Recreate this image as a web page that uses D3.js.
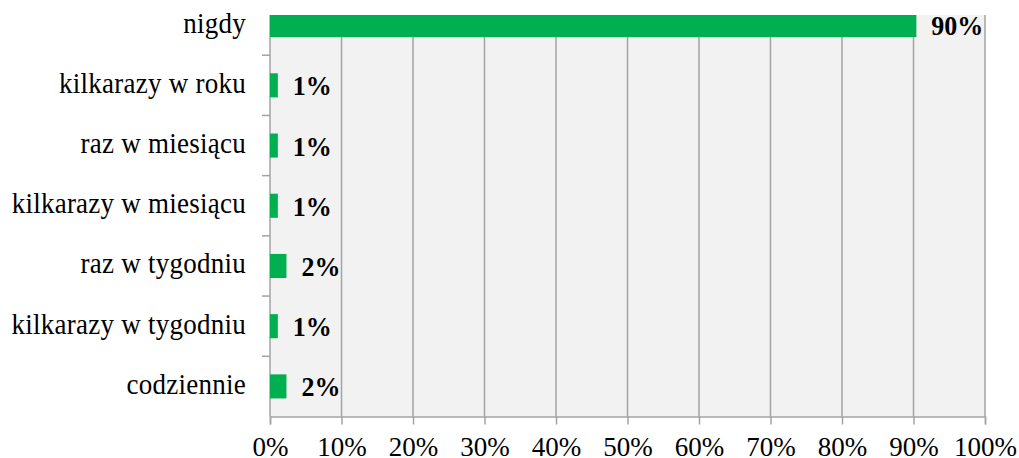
<!DOCTYPE html>
<html><head><meta charset="utf-8">
<script src="https://cdn.jsdelivr.net/npm/d3@7"></script>
<style>body{margin:0;background:#fff}svg{display:block}</style>
</head><body>
<script>
const categories = ["nigdy","kilkarazy w roku","raz w miesiącu","kilkarazy w miesiącu","raz w tygodniu","kilkarazy w tygodniu","codziennie"];
const values = [90.4, 1.1, 1.1, 1.1, 2.3, 1.1, 2.3];
const valueLabels = ["90%","1%","1%","1%","2%","1%","2%"];
const xTicks = [0,10,20,30,40,50,60,70,80,90,100];

const W = 1019, H = 458;
const mLeft = 270, mRight = 985, mTop = -5, mBottom = 416.5, visTop = 15;
const FONT = "'Liberation Serif', 'Times New Roman', serif";
const svg = d3.select("body").append("svg").attr("width", W).attr("height", H);

const x = d3.scaleLinear().domain([0,100]).range([mLeft, mRight]);
const yBand = d3.scaleBand().domain(categories).range([mTop, mBottom]).paddingInner(0.6).paddingOuter(0.3);
const yStep = d3.scaleBand().domain(categories).range([mTop, mBottom]).padding(0);

svg.append("defs").append("clipPath").attr("id","clip")
  .append("rect").attr("x", 0).attr("y", visTop).attr("width", W).attr("height", H - visTop);

const g = svg.append("g").attr("clip-path","url(#clip)");
g.append("rect").attr("x", mLeft).attr("y", visTop).attr("width", mRight-mLeft).attr("height", mBottom-visTop).attr("fill","#f2f2f2");

// gridlines
g.selectAll("line.grid").data(xTicks).join("line").attr("class","grid")
  .attr("x1", d=>x(d)).attr("x2", d=>x(d)).attr("y1", visTop).attr("y2", mBottom)
  .attr("stroke","#a3a3a3").attr("stroke-width",1.5);

// y ticks
g.selectAll("line.yt").data(categories).join("line").attr("class","yt")
  .attr("x1", mLeft-8).attr("x2", mLeft).attr("y1", d=>yStep(d)).attr("y2", d=>yStep(d))
  .attr("stroke","#a3a3a3").attr("stroke-width",1.5);

// x axis
const xAxis = d3.axisBottom(x).tickValues(xTicks).tickFormat(d=>d+"%").tickSize(8).tickPadding(13);
const ax = svg.append("g").attr("transform",`translate(0,${mBottom})`).call(xAxis);
ax.select(".domain").attr("stroke","#a3a3a3").attr("stroke-width",1.5);
ax.selectAll(".tick line").attr("stroke","#a3a3a3").attr("stroke-width",1.5);
ax.selectAll(".tick text").attr("font-family",FONT).attr("font-size",27).attr("fill","#000").attr("dy","0.69em");

// bars
g.selectAll("rect.bar").data(categories).join("rect").attr("class","bar")
  .attr("x", x(0)).attr("y", d=>yBand(d)).attr("width", (d,i)=>x(values[i])-x(0)).attr("height", yBand.bandwidth())
  .attr("fill","#00b050");

// value labels
g.selectAll("text.val").data(categories).join("text").attr("class","val")
  .attr("x", (d,i)=>x(values[i])+15).attr("y", d=>yBand(d)+yBand.bandwidth()/2+10)
  .attr("font-family",FONT).attr("font-size",26).attr("font-weight","bold")
  .attr("transform", (d)=>{ const cy = yBand(d)+yBand.bandwidth()/2+10; return `translate(0,${cy}) scale(1,1.05) translate(0,${-cy})`; })
  .text((d,i)=>valueLabels[i]);

// category labels
svg.selectAll("text.cat").data(categories).join("text").attr("class","cat")
  .attr("transform", d=>`translate(246,${yBand(d)+yBand.bandwidth()/2+7.5}) scale(1,1.12)`)
  .attr("text-anchor","end")
  .attr("letter-spacing", "0.25px")
  .attr("font-family",FONT).attr("font-size",27)
  .text(d=>d);
</script>
</body></html>
